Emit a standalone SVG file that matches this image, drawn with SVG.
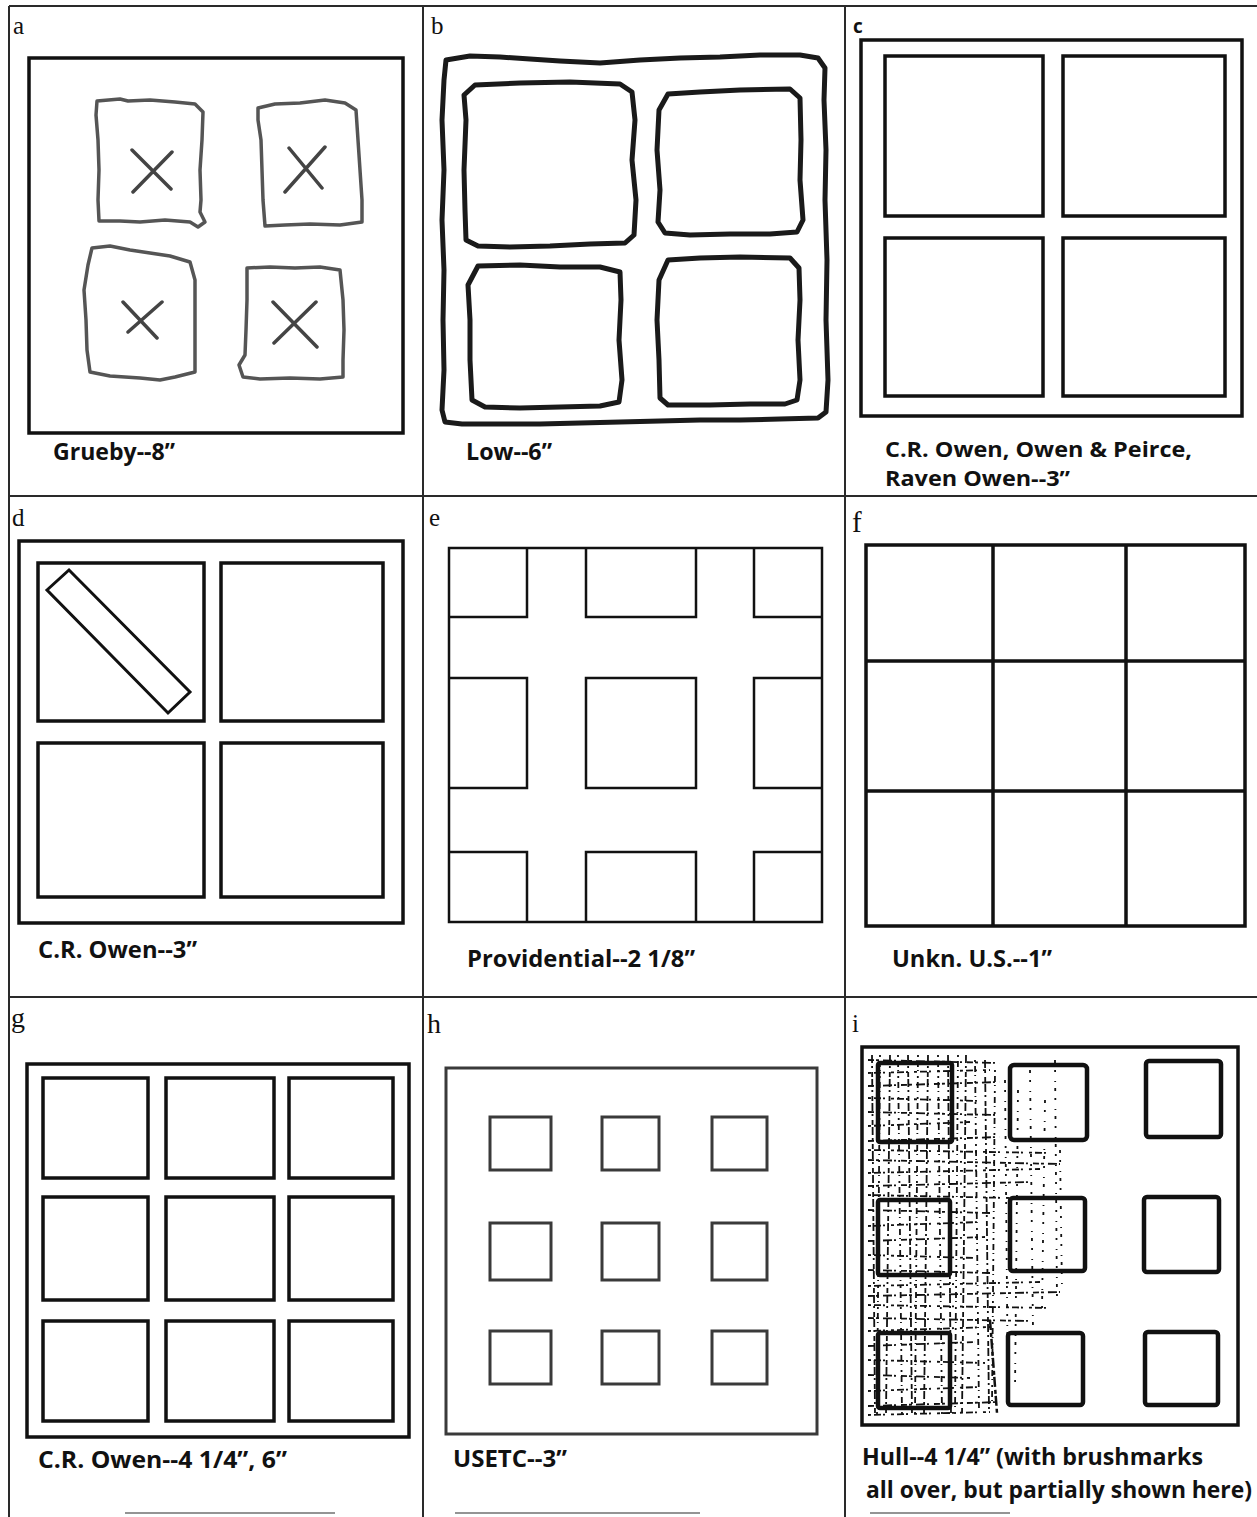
<svg xmlns="http://www.w3.org/2000/svg" width="1257" height="1517" viewBox="0 0 1257 1517">
<style>
.grid{stroke:#2a2a2a;stroke-width:2;fill:none}
.frm{fill:none;stroke:#111;stroke-width:3.5}
.thin{fill:none;stroke:#111;stroke-width:2.5}
.gry{fill:none;stroke:#3a3a3a;stroke-width:3}
.rough{fill:none;stroke:#555;stroke-width:3.5;stroke-linejoin:round}
.xm{stroke:#444;stroke-width:3.5;stroke-linecap:round}
.ink{fill:none;stroke:#1a1a1a;stroke-width:5;stroke-linejoin:round}
.hull{fill:none;stroke:#111;stroke-width:4.5}
.bm{stroke:#111;stroke-width:1.8;fill:none}
.lbl{font-family:"Open Sans","Liberation Sans",sans-serif;font-weight:700;font-size:23px;fill:#111}
.pl{font-family:"Liberation Serif",serif;font-size:25px;fill:#111}
</style>
<rect width="1257" height="1517" fill="#fff"/>
<g id="grid-lines">
<path class="grid" d="M9,6 H1257 M9,6 V1517 M423,6 V1517 M845,6 V1517 M9,496 H1257 M9,997 H1257"/>
<path class="grid" d="M125,1513 H335 M455,1513 H700 M870,1513 H1010" stroke-opacity="0.5"/>
</g>

<g id="panel-a">
<text class="pl" x="13" y="34">a</text>
<rect class="frm" x="29" y="58" width="374" height="375"/>
<path class="rough" d="M97,101 L120,99 L128,101 L150,100 L175,102 L195,104 L203,112 L202,140 L200,170 L201,200 L200,212 L205,222 L198,227 L190,222 L165,220 L140,222 L120,221 L99,221 L98,200 L99,170 L98,140 L96,115 Z"/>
<path class="rough" d="M258,108 L275,104 L300,103 L325,100 L345,103 L356,110 L358,140 L360,170 L362,200 L362,222 L340,225 L310,224 L285,225 L265,226 L263,200 L262,170 L261,140 L258,120 Z"/>
<path class="rough" d="M92,248 L110,246 L130,250 L150,253 L170,256 L190,262 L195,280 L195,320 L195,360 L195,372 L175,377 L160,380 L140,378 L110,376 L90,372 L87,350 L86,320 L84,290 L88,265 Z"/>
<path class="rough" d="M247,268 L270,267 L295,268 L320,267 L340,270 L343,300 L344,330 L343,360 L343,377 L320,379 L290,378 L260,379 L243,377 L239,365 L245,355 L246,330 L247,300 Z"/>
<path class="xm" d="M133,192 L172,152 M132,150 L171,189 M285,192 L325,147 M289,148 L322,188 M128,332 L162,302 M123,302 L157,338 M274,343 L316,302 M273,302 L317,347"/>
<text class="lbl" x="53" y="460" textLength="122" lengthAdjust="spacingAndGlyphs">Grueby--8”</text>
</g>

<g id="panel-b">
<text class="pl" x="431" y="34">b</text>
<path class="ink" d="M446,60 L470,56 L500,57 L530,59 L560,61 L600,63 L640,60 L680,58 L720,57 L760,55 L800,55 L818,58 L825,68 L824,100 L826,150 L825,200 L827,260 L826,320 L828,380 L826,412 L818,418 L780,419 L740,420 L700,420 L660,421 L620,422 L580,423 L540,424 L500,424 L462,424 L445,422 L442,410 L444,370 L443,320 L444,270 L442,220 L444,170 L442,120 L444,80 Z"/>
<path class="ink" d="M475,85 L520,83 L570,82 L620,84 L632,92 L635,120 L632,160 L636,200 L634,235 L625,243 L590,244 L550,246 L510,247 L478,246 L466,240 L465,210 L464,170 L466,120 L464,95 Z"/>
<path class="ink" d="M668,94 L700,92 L740,90 L790,89 L800,98 L801,140 L800,180 L803,220 L797,232 L770,234 L730,234 L690,235 L665,233 L658,222 L660,190 L657,150 L659,110 Z"/>
<path class="ink" d="M478,266 L520,265 L560,267 L600,267 L620,272 L621,300 L619,340 L622,380 L619,402 L600,406 L560,407 L520,408 L485,407 L472,400 L470,360 L470,320 L468,285 Z"/>
<path class="ink" d="M668,260 L700,258 L740,257 L790,258 L799,268 L800,300 L798,340 L800,380 L797,400 L785,404 L750,404 L710,405 L668,405 L660,398 L659,360 L657,320 L659,280 Z"/>
<text class="lbl" x="466" y="460" textLength="86" lengthAdjust="spacingAndGlyphs">Low--6”</text>
</g>

<g id="panel-c">
<text class="lbl" x="853" y="33" style="font-size:19px">c</text>
<rect class="frm" x="861" y="40" width="381" height="376"/>
<rect class="frm" x="885" y="56" width="158" height="160"/>
<rect class="frm" x="1063" y="56" width="162" height="160"/>
<rect class="frm" x="885" y="238" width="158" height="158"/>
<rect class="frm" x="1063" y="238" width="162" height="158"/>
<text class="lbl" x="885" y="457" style="font-size:21px" textLength="307" lengthAdjust="spacingAndGlyphs">C.R. Owen, Owen &amp; Peirce,</text>
<text class="lbl" x="885" y="486" style="font-size:21px" textLength="185" lengthAdjust="spacingAndGlyphs">Raven Owen--3”</text>
</g>

<g id="panel-d">
<text class="pl" x="12" y="526">d</text>
<rect class="frm" x="19" y="541" width="384" height="382"/>
<rect class="frm" x="38" y="563" width="166" height="158"/>
<rect class="frm" x="221" y="563" width="162" height="158"/>
<rect class="frm" x="38" y="743" width="166" height="154"/>
<rect class="frm" x="221" y="743" width="162" height="154"/>
<polygon class="frm" style="stroke-width:3" points="47,590 69,570 190,692 168,713"/>
<text class="lbl" x="38" y="958" textLength="159" lengthAdjust="spacingAndGlyphs">C.R. Owen--3”</text>
</g>

<g id="panel-e">
<text class="pl" x="429" y="526">e</text>
<rect class="thin" x="449" y="548" width="373" height="374"/>
<path class="thin" d="M527,548 V617 H449 M586,548 V617 H696 V548 M754,548 V617 H822 M449,678 H527 V788 H449 M586,678 H696 V788 H586 Z M822,678 H754 V788 H822 M449,852 H527 V922 M586,922 V852 H696 V922 M754,922 V852 H822"/>
<text class="lbl" x="467" y="967" textLength="228" lengthAdjust="spacingAndGlyphs">Providential--2 1/8”</text>
</g>

<g id="panel-f">
<text class="pl" x="852" y="532" style="font-size:29px">f</text>
<rect class="frm" x="866" y="545" width="379" height="381"/>
<path class="frm" d="M993,545 V926 M1126,545 V926 M866,661 H1245 M866,791 H1245"/>
<text class="lbl" x="892" y="967" textLength="160" lengthAdjust="spacingAndGlyphs">Unkn. U.S.--1”</text>
</g>

<g id="panel-g">
<text class="pl" x="11" y="1027" style="font-size:28px">g</text>
<rect class="frm" x="27" y="1064" width="382" height="373"/>
<rect class="frm" x="43" y="1078" width="105" height="100"/>
<rect class="frm" x="166" y="1078" width="108" height="100"/>
<rect class="frm" x="289" y="1078" width="104" height="100"/>
<rect class="frm" x="43" y="1197" width="105" height="103"/>
<rect class="frm" x="166" y="1197" width="108" height="103"/>
<rect class="frm" x="289" y="1197" width="104" height="103"/>
<rect class="frm" x="43" y="1321" width="105" height="100"/>
<rect class="frm" x="166" y="1321" width="108" height="100"/>
<rect class="frm" x="289" y="1321" width="104" height="100"/>
<text class="lbl" x="38" y="1468" textLength="249" lengthAdjust="spacingAndGlyphs">C.R. Owen--4 1/4”, 6”</text>
</g>

<g id="panel-h">
<text class="pl" x="427" y="1033" style="font-size:28px">h</text>
<rect class="gry" x="446" y="1068" width="371" height="366"/>
<rect class="gry" x="490" y="1117" width="61" height="53"/>
<rect class="gry" x="602" y="1117" width="57" height="53"/>
<rect class="gry" x="712" y="1117" width="55" height="53"/>
<rect class="gry" x="490" y="1223" width="61" height="57"/>
<rect class="gry" x="602" y="1223" width="57" height="57"/>
<rect class="gry" x="712" y="1223" width="55" height="57"/>
<rect class="gry" x="490" y="1331" width="61" height="53"/>
<rect class="gry" x="602" y="1331" width="57" height="53"/>
<rect class="gry" x="712" y="1331" width="55" height="53"/>
<text class="lbl" x="453" y="1467" textLength="114" lengthAdjust="spacingAndGlyphs">USETC--3”</text>
</g>

<g id="panel-i">
<text class="pl" x="852" y="1032">i</text>
<g id="brushmarks">
<path class="bm" stroke-dasharray="6 2 3 4 9 2 2 5" d="M868,1060 L1000,1063 M868,1086 L1000,1082 M868,1112 L995,1115 M868,1141 L1000,1137 M868,1160 L1060,1164 M868,1186 L1030,1182 M868,1210 L990,1213 M868,1241 L985,1237 M868,1270 L990,1273 M868,1296 L1060,1292 M868,1318 L1030,1321 M868,1346 L975,1342 M868,1375 L970,1378 M868,1406 L1000,1402"/>
<path class="bm" stroke-dasharray="3 3 7 2 2 6" d="M868,1073 L990,1070 M868,1098 L980,1101 M868,1126 L970,1122 M868,1150 L1050,1153 M868,1173 L1040,1169 M868,1195 L1010,1198 M868,1226 L980,1222 M868,1255 L975,1258 M868,1286 L1040,1282 M868,1305 L1050,1308 M868,1331 L990,1327 M868,1360 L985,1363 M868,1391 L980,1387 M868,1415 L990,1412"/>
<path class="bm" stroke-dasharray="8 3 2 4 5 2" d="M872,1055 L875,1415 M890,1055 L886,1415 M908,1055 L912,1415 M928,1055 L924,1415 M948,1055 L951,1415 M966,1055 L962,1415 M985,1060 L989,1410"/>
<path class="bm" stroke-dasharray="2 4 6 3 1 5" d="M880,1055 L877,1415 M898,1055 L902,1415 M918,1055 L915,1415 M938,1055 L942,1415 M958,1055 L955,1415 M975,1060 L979,1410 M995,1070 L992,1405"/>
<path class="bm" stroke-dasharray="3 7 2 9 1 6" d="M1005,1080 L1008,1400 M1018,1090 L1015,1390 M1030,1070 L1033,1330 M1045,1100 L1042,1310 M1055,1060 L1057,1300 M1060,1150 L1062,1290"/>
<path class="bm" style="stroke-width:2.5" stroke-dasharray="10 3 4 2" d="M990,1320 L997,1413"/>
</g>
<rect class="frm" x="862" y="1047" width="376" height="378"/>
<rect class="hull" x="878" y="1063" width="74" height="79" rx="2"/>
<rect class="hull" x="1010" y="1065" width="77" height="75" rx="4"/>
<rect class="hull" x="1146" y="1061" width="75" height="76" rx="3"/>
<rect class="hull" x="878" y="1200" width="72" height="75" rx="2"/>
<rect class="hull" x="1010" y="1198" width="75" height="73" rx="3"/>
<rect class="hull" x="1144" y="1197" width="75" height="75" rx="3"/>
<rect class="hull" x="878" y="1333" width="72" height="75" rx="2"/>
<rect class="hull" x="1008" y="1333" width="75" height="72" rx="3"/>
<rect class="hull" x="1145" y="1332" width="73" height="73" rx="3"/>
<text class="lbl" x="862" y="1465" textLength="341" lengthAdjust="spacingAndGlyphs">Hull--4 1/4” (with brushmarks</text>
<text class="lbl" x="866" y="1498" textLength="386" lengthAdjust="spacingAndGlyphs">all over, but partially shown here)</text>
</g>
</svg>
